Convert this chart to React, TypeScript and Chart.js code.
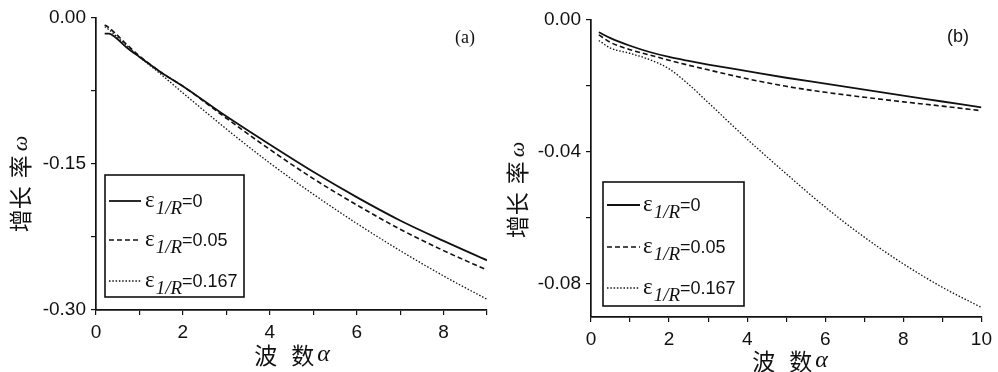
import React, { useEffect, useRef } from "react";
import { Chart, registerables } from "chart.js";

Chart.register(...registerables);

// ---------- data: panel (a) ----------
const alphaA = [0.2, 0.3, 0.45, 0.7, 1, 1.5, 2, 3, 4, 5, 6, 7, 8, 9];
const omegaA_eps0 = [-0.016, -0.016, -0.02, -0.03, -0.04, -0.056, -0.07, -0.101, -0.13, -0.158, -0.184, -0.208, -0.229, -0.249];
const omegaA_eps005 = [-0.007, -0.01, -0.016, -0.027, -0.039, -0.056, -0.07, -0.103, -0.135, -0.165, -0.192, -0.217, -0.239, -0.259];
const omegaA_eps0167 = [-0.009, -0.012, -0.018, -0.028, -0.04, -0.058, -0.077, -0.114, -0.149, -0.181, -0.211, -0.239, -0.265, -0.289];

// ---------- data: panel (b) ----------
const alphaB = [0.2, 0.5, 1, 1.5, 2, 2.5, 3, 4, 5, 6, 7, 8, 9, 10];
const omegaB_eps0 = [-0.0037, -0.0055, -0.0078, -0.0097, -0.0112, -0.0124, -0.0135, -0.0155, -0.0175, -0.0193, -0.0211, -0.0229, -0.0247, -0.0265];
const omegaB_eps005 = [-0.0045, -0.0068, -0.009, -0.0106, -0.0122, -0.0137, -0.0151, -0.0178, -0.0201, -0.0219, -0.0234, -0.0248, -0.0261, -0.0275];
const omegaB_eps0167 = [-0.0062, -0.0085, -0.0101, -0.012, -0.0148, -0.0195, -0.025, -0.0361, -0.0466, -0.0567, -0.0658, -0.0739, -0.081, -0.0871];

// ---------- labels / ticks ----------
const epsLabels = ["0", "0.05", "0.167"];
const yTicksA = [-0.3, -0.225, -0.15, -0.075, 0];
const yTicksB = [-0.08, -0.06, -0.04, -0.02, 0];
const xRangeA = [0, 9];
const xRangeB = [0, 10];
const yRangeA = [-0.3, 0];
const yRangeB = [-0.09, 0];
const panelTags = ["(a)", "(b)"];
const xTitleParts = ["波", "数", "α"];
const yTitleParts = ["增长", "率", "ω"];

const INK = "#111";
const styles = [
  { dash: [] as number[], width: 1.8 },
  { dash: [5, 3], width: 1.6 },
  { dash: [1.5, 1.8], width: 1.3 },
];

type PanelCfg = {
  left: number;
  alpha: number[];
  series: number[][];
  xRange: number[];
  yRange: number[];
  yTicks: number[];
  tag: string;
  tagX: number;
  tagY: number;
  tagFont: string;
  pad: { top: number; right: number };
  yAxisW: number;
  xAxisH: number;
  legend: { l: number; t: number; r: number; b: number; rows: number[]; lineX0: number; lineX1: number; textX: number };
  yTitle: { x: number; y: number };
  xTitle: { x: number; y: number };
};

function makeDecor(cfg: PanelCfg) {
  return {
    id: "decor" + cfg.tag,
    afterDraw(chart: any) {
      const ctx: CanvasRenderingContext2D = chart.ctx;
      ctx.save();
      ctx.fillStyle = INK;
      ctx.strokeStyle = INK;

      // panel tag
      ctx.font = cfg.tagFont;
      ctx.textAlign = "center";
      ctx.textBaseline = "middle";
      ctx.fillText(cfg.tag, cfg.tagX, cfg.tagY);

      // legend box
      const L = cfg.legend;
      ctx.lineWidth = 1.6;
      ctx.setLineDash([]);
      ctx.strokeRect(L.l, L.t, L.r - L.l, L.b - L.t);
      ctx.textAlign = "left";
      ctx.textBaseline = "alphabetic";
      chart.data.datasets.forEach((ds: any, i: number) => {
        const y = L.rows[i];
        ctx.beginPath();
        ctx.setLineDash(ds.borderDash || []);
        ctx.lineWidth = ds.borderWidth;
        ctx.moveTo(L.lineX0, y);
        ctx.lineTo(L.lineX1, y);
        ctx.stroke();
        ctx.setLineDash([]);
        let x = L.textX;
        ctx.font = "23px 'Liberation Serif'";
        ctx.fillText("ε", x, y + 6);
        x += ctx.measureText("ε").width + 1;
        ctx.font = "italic 19px 'Liberation Serif'";
        ctx.fillText("1/R", x, y + 13);
        x += ctx.measureText("1/R").width;
        ctx.font = "18px 'Liberation Sans'";
        ctx.fillText("=" + epsLabels[i], x, y + 6);
      });

      // y title (rotated, reads bottom to top)
      ctx.save();
      ctx.translate(cfg.yTitle.x, cfg.yTitle.y);
      ctx.rotate(-Math.PI / 2);
      ctx.textBaseline = "middle";
      const cjk = "23px 'Noto Sans CJK SC'";
      const greek = "italic 22px 'Liberation Serif'";
      ctx.font = cjk;
      const w0 = ctx.measureText(yTitleParts[0]).width;
      const w1 = ctx.measureText(yTitleParts[1]).width;
      ctx.font = greek;
      const w2 = ctx.measureText(yTitleParts[2]).width;
      const g1 = 8, g2 = 4;
      const total = w0 + g1 + w1 + g2 + w2;
      let tx = -total / 2;
      ctx.textAlign = "left";
      ctx.font = cjk;
      ctx.fillText(yTitleParts[0], tx, 0);
      tx += w0 + g1;
      ctx.fillText(yTitleParts[1], tx, 0);
      tx += w1 + g2;
      ctx.font = greek;
      ctx.fillText(yTitleParts[2], tx, 1);
      ctx.restore();

      // x title
      ctx.textBaseline = "middle";
      ctx.textAlign = "left";
      ctx.font = cjk;
      const a0 = ctx.measureText(xTitleParts[0]).width;
      const a1 = ctx.measureText(xTitleParts[1]).width;
      ctx.font = "italic 24px 'Liberation Serif'";
      const a2 = ctx.measureText(xTitleParts[2]).width;
      const xg1 = 14, xg2 = 3;
      const xt = a0 + xg1 + a1 + xg2 + a2;
      let sx = cfg.xTitle.x - xt / 2;
      ctx.font = cjk;
      ctx.fillText(xTitleParts[0], sx, cfg.xTitle.y);
      sx += a0 + xg1;
      ctx.fillText(xTitleParts[1], sx, cfg.xTitle.y);
      sx += a1 + xg2;
      ctx.font = "italic 24px 'Liberation Serif'";
      ctx.fillText(xTitleParts[2], sx, cfg.xTitle.y);

      ctx.restore();
    },
  };
}

function Panel({ cfg }: { cfg: PanelCfg }) {
  const ref = useRef<HTMLCanvasElement>(null);
  useEffect(() => {
    const tickFont = { family: "'Liberation Sans', Arial, sans-serif", size: 19 };
    const chart = new Chart(ref.current as HTMLCanvasElement, {
      type: "line",
      data: {
        datasets: cfg.series.map((vals, i) => ({
          label: "ε1/R=" + epsLabels[i],
          data: cfg.alpha.map((a, j) => ({ x: a, y: vals[j] })),
          borderColor: INK,
          borderWidth: styles[i].width,
          borderDash: styles[i].dash,
          pointRadius: 0,
          fill: false,
          cubicInterpolationMode: "monotone" as const,
        })),
      },
      options: {
        responsive: false,
        animation: false,
        devicePixelRatio: 1,
        layout: { padding: { top: cfg.pad.top, right: cfg.pad.right, left: 0, bottom: 0 } },
        plugins: { legend: { display: false }, tooltip: { enabled: false } },
        scales: {
          x: {
            type: "linear",
            min: cfg.xRange[0],
            max: cfg.xRange[1],
            afterFit: (s: any) => {
              s.height = cfg.xAxisH;
            },
            ticks: {
              stepSize: 1,
              autoSkip: false,
              maxRotation: 0,
              padding: 6,
              color: INK,
              font: tickFont,
              callback: (v: any) => (Math.round(v) % 2 === 0 ? String(Math.round(v)) : ""),
            },
            grid: { drawOnChartArea: false, tickLength: 5, color: INK, lineWidth: 1.2 },
            border: { color: INK, width: 1.7 },
          },
          y: {
            type: "linear",
            min: cfg.yRange[0],
            max: cfg.yRange[1],
            afterBuildTicks: (s: any) => {
              s.ticks = cfg.yTicks.map((v) => ({ value: v }));
            },
            afterFit: (s: any) => {
              s.width = cfg.yAxisW;
            },
            ticks: {
              padding: 5,
              color: INK,
              font: tickFont,
              callback: (v: any, i: number) =>
                i % 2 === 0 ? (Math.abs(v) < 1e-9 ? "0.00" : Number(v).toFixed(2)) : "",
            },
            grid: { drawOnChartArea: false, tickLength: 5, color: INK, lineWidth: 1.2 },
            border: { color: INK, width: 1.7 },
          },
        },
      },
      plugins: [makeDecor(cfg)],
    });
    return () => chart.destroy();
  }, []);
  return (
    <canvas
      ref={ref}
      width={499}
      height={372}
      style={{ position: "absolute", left: cfg.left, top: 0, width: 499, height: 372, display: "block" }}
    />
  );
}

const panelA: PanelCfg = {
  left: 0,
  alpha: alphaA,
  series: [omegaA_eps0, omegaA_eps005, omegaA_eps0167],
  xRange: xRangeA,
  yRange: yRangeA,
  yTicks: yTicksA,
  tag: panelTags[0],
  tagX: 465,
  tagY: 38,
  tagFont: "18px 'Liberation Serif'",
  pad: { top: 18, right: 12 },
  yAxisW: 96,
  xAxisH: 62,
  legend: { l: 105, t: 175, r: 244, b: 297, rows: [201, 240, 281], lineX0: 109, lineX1: 141, textX: 145 },
  yTitle: { x: 20, y: 184 },
  xTitle: { x: 292, y: 355 },
};

const panelB: PanelCfg = {
  left: 499,
  alpha: alphaB,
  series: [omegaB_eps0, omegaB_eps005, omegaB_eps0167],
  xRange: xRangeB,
  yRange: yRangeB,
  yTicks: yTicksB,
  tag: panelTags[1],
  tagX: 459,
  tagY: 37,
  tagFont: "18px 'Liberation Sans'",
  pad: { top: 20, right: 11 },
  yAxisW: 92,
  xAxisH: 55,
  legend: { l: 104, t: 182, r: 245, b: 306, rows: [205, 247, 288], lineX0: 108, lineX1: 141, textX: 144 },
  yTitle: { x: 18, y: 190 },
  xTitle: { x: 291, y: 361 },
};

export default function App() {
  return (
    <div style={{ position: "fixed", left: 0, top: 0, width: 998, height: 372, background: "#fff", overflow: "hidden" }}>
      <Panel cfg={panelA} />
      <Panel cfg={panelB} />
    </div>
  );
}
